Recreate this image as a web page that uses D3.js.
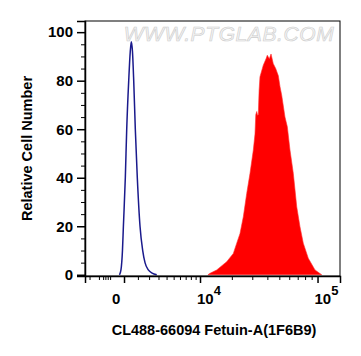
<!DOCTYPE html>
<html>
<head>
<meta charset="utf-8">
<script src="https://cdn.jsdelivr.net/npm/d3@7"></script>
<style>
  body { margin: 0; background: #fff; }
  svg { display: block; }
</style>
</head>
<body>
<svg id="chart" width="361" height="356"></svg>
<script>
// control (blue outline) histogram: [intensity, count]
const controlX = [-300, -200, -100, -40, 84, 176, 312, 420, 496, 580, 673, 795, 952, 1174, 1406, 1612, 1923, 2300, 2800];
const controlY = [0, 2, 10, 20, 40, 60, 80, 92, 96, 92, 80, 60, 40, 20, 10, 5, 2, 0.7, 0];

// stained (red filled) histogram
const stainedX = [12000, 12573, 14571, 18000, 20616, 22074, 23584, 25181, 26918, 28706, 30608, 31617, 32100, 32690,
  33200, 33680, 34200, 34780, 37040, 39000, 39960, 41510, 42850, 44700, 46770, 49100, 50650, 52250,
  55500, 57940, 60830, 64630, 68780, 72960, 77450, 84740, 95600, 107740];
const stainedY = [0, 0.6, 2, 5.4, 8.8, 13, 17, 23.9, 33.5, 41.8, 51.4, 58, 66, 67.3,
  65.8, 66, 76, 81.6, 86.4, 89, 90.5, 89, 91, 87, 85, 82, 77.5, 74,
  65, 61, 51.4, 41.8, 28, 19.8, 13, 6.8, 2, 0];

const yTicks = [0, 20, 40, 60, 80, 100];
const yMinor = d3.range(0, 105, 5).filter(v => v % 20 !== 0);
const xMajor = [0, 10000, 100000];
const xMajorLabels = [{ base: '0', exp: '' }, { base: '10', exp: '4' }, { base: '10', exp: '5' }];
const xMinor = [-3000, -2000, -1600, -1400, -1200, -1000, 1000, 2000, 3000, 4000, 5000, 6000, 7000, 8000, 9000,
  20000, 30000, 40000, 50000, 60000, 70000, 80000, 90000];

const X_LEFT = 85, X_RIGHT = 340, Y_TOP = 21, Y_BOTTOM = 276;
const FONT = 'Liberation Sans, Arial, sans-serif';

const svg = d3.select('#chart');

const x = d3.scaleSymlog().constant(3700).domain([-3545, 149000]).range([X_LEFT, X_RIGHT]);
const y = d3.scaleLinear().domain([-0.5, 104.6]).range([Y_BOTTOM, Y_TOP]);

const control = controlX.map((v, i) => [v, controlY[i]]);
const stained = stainedX.map((v, i) => [v, stainedY[i]]);

// red filled histogram
svg.append('path')
  .datum(stained)
  .attr('d', d3.area().x(d => x(d[0])).y0(y(0)).y1(d => y(d[1])).curve(d3.curveLinear))
  .attr('fill', '#ff0000')
  .attr('stroke', '#ff3030')
  .attr('stroke-width', 0.6);

// blue outline histogram
svg.append('path')
  .datum(control)
  .attr('d', d3.line().x(d => x(d[0])).y(d => y(d[1])).curve(d3.curveMonotoneX))
  .attr('fill', 'none')
  .attr('stroke', '#1a1a8c')
  .attr('stroke-width', 1.5);

// watermark
svg.append('text')
  .attr('x', 229)
  .attr('y', 41)
  .attr('text-anchor', 'middle')
  .attr('font-family', FONT)
  .attr('font-size', 21)
  .attr('font-style', 'italic')
  .attr('fill', '#f4f4f4')
  .attr('stroke', '#cccccc')
  .attr('stroke-width', 0.6)
  .attr('letter-spacing', 0.6)
  .text('WWW.PTGLAB.COM');

// frame
svg.append('rect')
  .attr('x', X_LEFT).attr('y', Y_TOP)
  .attr('width', X_RIGHT - X_LEFT).attr('height', Y_BOTTOM - Y_TOP)
  .attr('fill', 'none').attr('stroke', '#000').attr('stroke-width', 1);

// y axis
const yAxis = svg.append('g').attr('transform', `translate(${X_LEFT},0)`)
  .call(d3.axisLeft(y).tickValues(yTicks).tickSize(8).tickPadding(4).tickFormat(d3.format('d')));
yAxis.select('.domain').attr('stroke-width', 1.5);
yAxis.selectAll('.tick line').attr('stroke-width', 1.5);
yAxis.selectAll('text').attr('font-family', FONT).attr('font-size', 15).attr('font-weight', 'bold').attr('fill', '#000');
svg.append('g').attr('transform', `translate(${X_LEFT},0)`)
  .call(d3.axisLeft(y).tickValues(yMinor).tickSize(4).tickFormat(''))
  .call(g => g.select('.domain').remove());

// x axis
const xAxis = svg.append('g').attr('transform', `translate(0,${Y_BOTTOM})`)
  .call(d3.axisBottom(x).tickValues(xMajor).tickSize(7).tickFormat(''));
xAxis.select('.domain').attr('stroke-width', 1.5);
xAxis.selectAll('.tick line').attr('stroke-width', 1.5);
svg.append('g').attr('transform', `translate(0,${Y_BOTTOM})`)
  .call(d3.axisBottom(x).tickValues(xMinor).tickSize(4).tickFormat(''))
  .call(g => g.select('.domain').remove());

// x tick labels with superscripts (left aligned near the tick)
const labelDx = [-12, -3, -3];
xMajor.forEach((v, i) => {
  const t = svg.append('text')
    .attr('x', x(v) + labelDx[i])
    .attr('y', 304)
    .attr('text-anchor', 'start')
    .attr('font-family', FONT)
    .attr('font-size', 15)
    .attr('font-weight', 'bold');
  t.append('tspan').text(xMajorLabels[i].base);
  if (xMajorLabels[i].exp) {
    t.append('tspan').attr('dy', -9).attr('font-size', 13).text(xMajorLabels[i].exp);
  }
});

// axis titles
svg.append('text')
  .attr('transform', `translate(32,${(Y_TOP + Y_BOTTOM) / 2}) rotate(-90)`)
  .attr('text-anchor', 'middle')
  .attr('font-family', FONT)
  .attr('font-size', 14.5)
  .attr('font-weight', 'bold')
  .text('Relative Cell Number');

svg.append('text')
  .attr('x', 214)
  .attr('y', 335)
  .attr('text-anchor', 'middle')
  .attr('font-family', FONT)
  .attr('font-size', 14.5)
  .attr('font-weight', 'bold')
  .text('CL488-66094 Fetuin-A(1F6B9)');
</script>
</body>
</html>
